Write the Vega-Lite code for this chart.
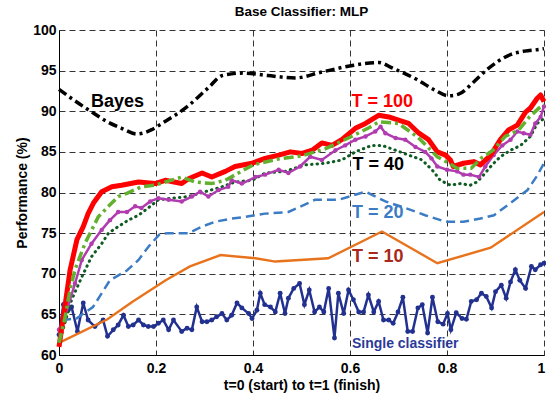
{
  "$schema": "https://vega.github.io/schema/vega-lite/v6.json",
  "width": 485,
  "height": 325,
  "autosize": {"type": "none"},
  "padding": {"left": 59, "top": 30, "right": 2, "bottom": 44},
  "background": "white",
  "title": {"text": "Base Classifier: MLP", "font": "Liberation Sans", "fontSize": 13.5, "fontWeight": "bold", "color": "black", "offset": 5},
  "config": {
    "view": {"stroke": null},
    "axis": {
      "labelFont": "Liberation Sans", "labelFontSize": 14, "labelFontWeight": "bold", "labelColor": "black",
      "titleFont": "Liberation Sans", "titleFontSize": 14, "titleFontWeight": "bold", "titleColor": "black",
      "domainColor": "black", "domainWidth": 1, "ticks": false,
      "grid": true, "gridColor": "#111", "gridDash": [6, 4], "gridWidth": 1, "gridOpacity": 0.85
    }
  },
  "datasets": {
    "bayes": [
      {"t":0,"perf":92.7},{"t":0.03,"perf":91.4},{"t":0.065,"perf":90.0},{"t":0.1,"perf":88.7},{"t":0.129,"perf":87.9},{"t":0.161,"perf":87.2},{"t":0.19,"perf":87.7},{"t":0.215,"perf":88.6},{"t":0.265,"perf":90.6},{"t":0.308,"perf":92.9},{"t":0.337,"perf":94.4},{"t":0.38,"perf":94.7},{"t":0.43,"perf":94.4},{"t":0.487,"perf":94.1},{"t":0.54,"perf":94.8},{"t":0.602,"perf":95.6},{"t":0.659,"perf":96.0},{"t":0.688,"perf":95.3},{"t":0.738,"perf":93.9},{"t":0.775,"perf":92.6},{"t":0.803,"perf":91.9},{"t":0.824,"perf":92.1},{"t":0.855,"perf":93.6},{"t":0.882,"perf":95.1},{"t":0.932,"perf":97.0},{"t":0.96,"perf":97.4},{"t":0.989,"perf":97.6},{"t":1.0,"perf":97.7}
    ],
    "single": [
      {"t":0.000,"perf":62.5},{"t":0.009,"perf":66.2},{"t":0.019,"perf":65.5},{"t":0.026,"perf":65.9},{"t":0.038,"perf":62.9},{"t":0.050,"perf":66.4},{"t":0.060,"perf":64.3},{"t":0.074,"perf":63.5},{"t":0.091,"perf":64.3},{"t":0.100,"perf":62.3},{"t":0.112,"perf":63.1},{"t":0.122,"perf":63.7},{"t":0.133,"perf":64.9},{"t":0.143,"perf":63.5},{"t":0.153,"perf":63.7},{"t":0.164,"perf":64.3},{"t":0.174,"perf":63.7},{"t":0.184,"perf":63.5},{"t":0.195,"perf":63.5},{"t":0.205,"perf":63.9},{"t":0.215,"perf":64.3},{"t":0.226,"perf":63.1},{"t":0.236,"perf":64.3},{"t":0.253,"perf":62.9},{"t":0.264,"perf":63.3},{"t":0.274,"perf":63.1},{"t":0.284,"perf":65.9},{"t":0.295,"perf":64.1},{"t":0.305,"perf":64.1},{"t":0.315,"perf":64.3},{"t":0.325,"perf":64.7},{"t":0.336,"perf":65.1},{"t":0.346,"perf":64.3},{"t":0.356,"perf":64.9},{"t":0.367,"perf":66.4},{"t":0.377,"perf":65.8},{"t":0.391,"perf":65.1},{"t":0.398,"perf":64.5},{"t":0.408,"perf":65.5},{"t":0.415,"perf":67.6},{"t":0.424,"perf":66.2},{"t":0.436,"perf":65.9},{"t":0.446,"perf":65.3},{"t":0.456,"perf":67.6},{"t":0.466,"perf":65.1},{"t":0.473,"perf":67.0},{"t":0.484,"perf":68.2},{"t":0.496,"perf":68.8},{"t":0.506,"perf":66.2},{"t":0.516,"perf":68.0},{"t":0.527,"perf":65.3},{"t":0.537,"perf":65.9},{"t":0.546,"perf":65.3},{"t":0.556,"perf":68.2},{"t":0.568,"perf":62.1},{"t":0.576,"perf":67.6},{"t":0.587,"perf":65.1},{"t":0.597,"perf":68.0},{"t":0.607,"perf":66.8},{"t":0.618,"perf":65.3},{"t":0.628,"perf":65.3},{"t":0.638,"perf":67.4},{"t":0.649,"perf":65.3},{"t":0.659,"perf":66.6},{"t":0.669,"perf":64.3},{"t":0.680,"perf":64.3},{"t":0.689,"perf":63.9},{"t":0.699,"perf":65.3},{"t":0.709,"perf":67.1},{"t":0.719,"perf":62.9},{"t":0.729,"perf":62.9},{"t":0.740,"perf":65.8},{"t":0.749,"perf":66.2},{"t":0.760,"perf":62.7},{"t":0.770,"perf":67.1},{"t":0.781,"perf":64.1},{"t":0.792,"perf":63.8},{"t":0.801,"perf":65.1},{"t":0.808,"perf":63.1},{"t":0.819,"perf":65.2},{"t":0.831,"perf":64.5},{"t":0.840,"perf":64.4},{"t":0.850,"perf":66.6},{"t":0.861,"perf":66.8},{"t":0.871,"perf":67.6},{"t":0.881,"perf":67.2},{"t":0.892,"perf":65.8},{"t":0.900,"perf":67.8},{"t":0.912,"perf":68.6},{"t":0.922,"perf":67.0},{"t":0.931,"perf":69.0},{"t":0.941,"perf":70.5},{"t":0.950,"perf":69.2},{"t":0.962,"perf":68.2},{"t":0.974,"perf":70.9},{"t":0.982,"perf":70.5},{"t":0.993,"perf":71.1},{"t":1.0,"perf":71.3}
    ],
    "t10": [
      {"t":0,"perf":61.5},{"t":0.1,"perf":64.4},{"t":0.15,"perf":66.5},{"t":0.22,"perf":69.2},{"t":0.27,"perf":70.9},{"t":0.333,"perf":72.3},{"t":0.405,"perf":71.9},{"t":0.446,"perf":71.5},{"t":0.555,"perf":71.9},{"t":0.666,"perf":75.2},{"t":0.78,"perf":71.3},{"t":0.89,"perf":73.2},{"t":1.0,"perf":77.6}
    ],
    "t20": [
      {"t":0,"perf":62.5},{"t":0.009,"perf":64.3},{"t":0.036,"perf":64.5},{"t":0.07,"perf":65.9},{"t":0.105,"perf":69.2},{"t":0.14,"perf":70.4},{"t":0.164,"perf":71.7},{"t":0.184,"perf":73.3},{"t":0.208,"perf":74.9},{"t":0.226,"perf":75.0},{"t":0.267,"perf":75.0},{"t":0.295,"perf":75.8},{"t":0.322,"perf":76.4},{"t":0.356,"perf":76.8},{"t":0.384,"perf":77.0},{"t":0.425,"perf":77.4},{"t":0.473,"perf":77.6},{"t":0.528,"perf":79.1},{"t":0.576,"perf":79.1},{"t":0.632,"perf":80.1},{"t":0.673,"perf":78.9},{"t":0.714,"perf":78.1},{"t":0.755,"perf":77.2},{"t":0.797,"perf":76.4},{"t":0.834,"perf":76.4},{"t":0.869,"perf":76.8},{"t":0.897,"perf":77.2},{"t":0.931,"perf":78.7},{"t":0.966,"perf":80.3},{"t":0.985,"perf":82.0},{"t":1.0,"perf":83.6}
    ],
    "t40": [
      {"t":0,"perf":61.4},{"t":0.012,"perf":63.9},{"t":0.026,"perf":66.8},{"t":0.047,"perf":69.6},{"t":0.067,"perf":72.1},{"t":0.088,"perf":73.7},{"t":0.102,"perf":75.0},{"t":0.122,"perf":75.8},{"t":0.143,"perf":76.6},{"t":0.164,"perf":77.2},{"t":0.184,"perf":78.1},{"t":0.205,"perf":79.1},{"t":0.232,"perf":79.3},{"t":0.267,"perf":79.5},{"t":0.301,"perf":80.1},{"t":0.336,"perf":80.7},{"t":0.363,"perf":81.3},{"t":0.398,"perf":81.5},{"t":0.425,"perf":82.4},{"t":0.466,"perf":82.6},{"t":0.508,"perf":83.4},{"t":0.549,"perf":83.6},{"t":0.583,"perf":84.0},{"t":0.611,"perf":85.0},{"t":0.645,"perf":85.8},{"t":0.666,"perf":85.8},{"t":0.694,"perf":85.2},{"t":0.721,"perf":84.6},{"t":0.749,"perf":84.0},{"t":0.772,"perf":82.6},{"t":0.786,"perf":81.5},{"t":0.807,"perf":80.9},{"t":0.828,"perf":81.1},{"t":0.848,"perf":80.9},{"t":0.862,"perf":81.3},{"t":0.876,"perf":82.2},{"t":0.893,"perf":83.4},{"t":0.910,"perf":84.4},{"t":0.931,"perf":85.2},{"t":0.952,"perf":85.8},{"t":0.972,"perf":86.9},{"t":0.986,"perf":88.5},{"t":1.0,"perf":89.1}
    ],
    "mag": [
      {"t":0,"perf":63.1},{"t":0.012,"perf":64.7},{"t":0.033,"perf":68.8},{"t":0.047,"perf":71.7},{"t":0.067,"perf":73.7},{"t":0.088,"perf":75.4},{"t":0.105,"perf":76.6},{"t":0.122,"perf":77.6},{"t":0.14,"perf":77.6},{"t":0.157,"perf":78.3},{"t":0.17,"perf":78.1},{"t":0.188,"perf":78.9},{"t":0.205,"perf":79.3},{"t":0.226,"perf":79.1},{"t":0.253,"perf":78.9},{"t":0.274,"perf":79.5},{"t":0.291,"perf":80.1},{"t":0.308,"perf":79.5},{"t":0.329,"perf":80.3},{"t":0.349,"perf":80.7},{"t":0.356,"perf":81.5},{"t":0.377,"perf":81.1},{"t":0.405,"perf":81.9},{"t":0.425,"perf":82.2},{"t":0.453,"perf":82.8},{"t":0.473,"perf":82.4},{"t":0.497,"perf":83.2},{"t":0.518,"perf":84.4},{"t":0.542,"perf":84.0},{"t":0.57,"perf":85.2},{"t":0.59,"perf":85.8},{"t":0.611,"perf":86.5},{"t":0.632,"perf":86.9},{"t":0.652,"perf":87.5},{"t":0.663,"perf":88.1},{"t":0.673,"perf":87.3},{"t":0.694,"perf":86.7},{"t":0.714,"perf":86.5},{"t":0.735,"perf":85.6},{"t":0.755,"perf":85.0},{"t":0.768,"perf":84.2},{"t":0.78,"perf":83.2},{"t":0.8,"perf":82.8},{"t":0.821,"perf":82.6},{"t":0.834,"perf":82.2},{"t":0.848,"perf":82.2},{"t":0.866,"perf":81.9},{"t":0.879,"perf":83.2},{"t":0.896,"perf":84.6},{"t":0.914,"perf":85.8},{"t":0.931,"perf":86.5},{"t":0.945,"perf":87.5},{"t":0.958,"perf":87.3},{"t":0.972,"perf":87.1},{"t":0.982,"perf":88.5},{"t":0.993,"perf":89.3},{"t":1.0,"perf":90.6}
    ],
    "t100": [
      {"t":0,"perf":61.0},{"t":0.012,"perf":65.9},{"t":0.023,"perf":70.5},{"t":0.037,"perf":74.2},{"t":0.05,"perf":75.8},{"t":0.06,"perf":77.4},{"t":0.071,"perf":78.7},{"t":0.088,"perf":80.1},{"t":0.109,"perf":80.7},{"t":0.129,"perf":80.9},{"t":0.164,"perf":81.3},{"t":0.198,"perf":81.1},{"t":0.219,"perf":81.5},{"t":0.253,"perf":81.1},{"t":0.267,"perf":81.7},{"t":0.295,"perf":82.4},{"t":0.315,"perf":81.9},{"t":0.343,"perf":82.6},{"t":0.363,"perf":83.2},{"t":0.398,"perf":83.6},{"t":0.425,"perf":84.2},{"t":0.453,"perf":84.6},{"t":0.477,"perf":85.0},{"t":0.501,"perf":84.8},{"t":0.522,"perf":85.2},{"t":0.542,"perf":86.1},{"t":0.563,"perf":85.8},{"t":0.583,"perf":86.5},{"t":0.611,"perf":87.9},{"t":0.632,"perf":88.5},{"t":0.659,"perf":89.5},{"t":0.68,"perf":89.3},{"t":0.7,"perf":88.9},{"t":0.721,"perf":88.5},{"t":0.742,"perf":87.3},{"t":0.762,"perf":86.5},{"t":0.78,"perf":85.0},{"t":0.797,"perf":84.6},{"t":0.807,"perf":84.0},{"t":0.813,"perf":83.2},{"t":0.834,"perf":83.6},{"t":0.855,"perf":83.8},{"t":0.869,"perf":83.4},{"t":0.89,"perf":84.6},{"t":0.91,"perf":86.5},{"t":0.927,"perf":87.7},{"t":0.945,"perf":88.3},{"t":0.962,"perf":89.9},{"t":0.972,"perf":90.4},{"t":0.986,"perf":91.6},{"t":0.993,"perf":92.0},{"t":1.0,"perf":91.2}
    ],
    "green": [
      {"t":0,"perf":61.5},{"t":0.012,"perf":64.5},{"t":0.022,"perf":67.8},{"t":0.033,"perf":70.5},{"t":0.054,"perf":73.8},{"t":0.081,"perf":77.0},{"t":0.102,"perf":78.3},{"t":0.122,"perf":79.5},{"t":0.14,"perf":79.9},{"t":0.17,"perf":80.7},{"t":0.198,"perf":80.9},{"t":0.253,"perf":81.9},{"t":0.28,"perf":81.3},{"t":0.315,"perf":81.1},{"t":0.343,"perf":81.5},{"t":0.37,"perf":82.4},{"t":0.4,"perf":83.4},{"t":0.45,"perf":84.1},{"t":0.5,"perf":84.5},{"t":0.55,"perf":85.4},{"t":0.6,"perf":86.8},{"t":0.64,"perf":88.0},{"t":0.66,"perf":88.7},{"t":0.7,"perf":88.5},{"t":0.74,"perf":86.8},{"t":0.76,"perf":85.6},{"t":0.78,"perf":84.4},{"t":0.81,"perf":83.4},{"t":0.82,"perf":83.0},{"t":0.85,"perf":83.0},{"t":0.87,"perf":84.2},{"t":0.895,"perf":85.2},{"t":0.92,"perf":86.9},{"t":0.948,"perf":87.7},{"t":0.97,"perf":89.3},{"t":0.99,"perf":90.4},{"t":1.0,"perf":90.8}
    ],
    "labels": [
      {"t":0.066,"perf":91.2,"label":"Bayes"},
      {"t":0.603,"perf":91.2,"label":"T = 100"},
      {"t":0.605,"perf":83.4,"label":"T = 40"},
      {"t":0.604,"perf":77.5,"label":"T = 20"},
      {"t":0.604,"perf":72.1,"label":"T = 10"}
    ],
    "single_label": [
      {"t":0.604,"perf":61.35,"label":"Single classifier"}
    ]
  },
  "encoding": {
    "x": {"field": "t", "type": "quantitative", "scale": {"domain": [0, 1], "nice": false, "zero": false},
      "axis": {"values": [0, 0.2, 0.4, 0.6, 0.8, 1], "format": "~g", "labelPadding": 6, "labelFlush": false, "labelOverlap": false, "labelBound": false,
        "labelOffset": {"condition": {"test": "datum.value == 1", "value": -3}, "value": 0},
        "title": "t=0 (start) to t=1 (finish)", "titlePadding": 3}},
    "y": {"field": "perf", "type": "quantitative", "scale": {"domain": [60, 100], "nice": false, "zero": false},
      "axis": {"values": [60, 65, 70, 75, 80, 85, 90, 95, 100], "labelPadding": 3, "labelFlush": false, "labelOverlap": false, "title": "Performance (%)", "titlePadding": 3}}
  },
  "layer": [
    {"data": {"name": "bayes"}, "mark": {"type": "line", "color": "black", "strokeWidth": 3.5, "strokeDash": [9, 4, 3, 4], "interpolate": "monotone"}},
    {"data": {"name": "single"}, "mark": {"type": "line", "color": "#22318F", "strokeWidth": 2.5, "point": {"filled": true, "size": 24, "color": "#22318F", "opacity": 1}}},
    {"data": {"name": "t10"}, "mark": {"type": "line", "color": "#E8731C", "strokeWidth": 2.4}},
    {"data": {"name": "t20"}, "mark": {"type": "line", "color": "#3B7CC4", "strokeWidth": 2.5, "strokeDash": [9, 5]}},
    {"data": {"name": "t40"}, "mark": {"type": "line", "color": "#0E5C22", "strokeWidth": 3, "strokeDash": [0.5, 5], "strokeCap": "round"}},
    {"data": {"name": "mag"}, "mark": {"type": "line", "color": "#B03CB0", "strokeWidth": 2.5, "point": {"filled": true, "size": 20, "color": "#B03CB0", "opacity": 1}}},
    {"data": {"name": "t100"}, "mark": {"type": "line", "color": "#FF0000", "strokeWidth": 5, "strokeJoin": "round"}},
    {"data": {"name": "green"}, "mark": {"type": "line", "color": "#62B02E", "strokeWidth": 3.5, "strokeDash": [10, 4, 3, 4]}},
    {"data": {"name": "labels"}, "mark": {"type": "text", "align": "left", "baseline": "middle", "font": "Liberation Sans", "fontSize": 18, "fontWeight": "bold"},
      "encoding": {"text": {"field": "label"}, "color": {"field": "label", "type": "nominal", "legend": null,
        "scale": {"domain": ["Bayes", "T = 100", "T = 40", "T = 20", "T = 10"], "range": ["#000000", "#FF0000", "#000000", "#3B7CC4", "#A8281C"]}}}},
    {"data": {"name": "single_label"}, "mark": {"type": "text", "align": "left", "baseline": "middle", "font": "Liberation Sans", "fontSize": 14, "fontWeight": "bold", "color": "#2B3A99"},
      "encoding": {"text": {"field": "label"}}}
  ]
}
